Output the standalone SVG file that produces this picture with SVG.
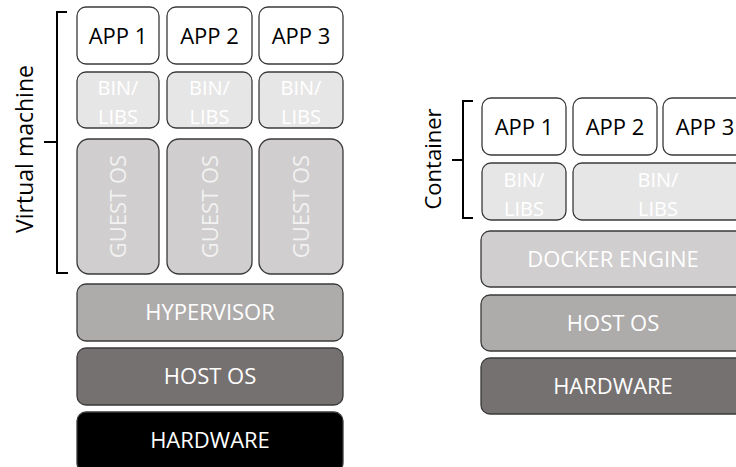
<svg xmlns="http://www.w3.org/2000/svg" width="736" height="467" viewBox="0 0 736 467">
<style>
.b{stroke:#3a3a3a;stroke-width:1.3}
.t{font-family:"Open Sans","Liberation Sans",sans-serif;font-size:22px;text-anchor:middle}
.bl{font-size:20px}
.w{fill:#ffffff}
.k{fill:#000000}
.s{fill:#f2f2f2}
.app{fill:#ffffff}
.bin{fill:#e7e6e6}
.gos{fill:#d0cece}
.hyp{fill:#aeabab}
.hos{fill:#767171}
.hw{fill:#000000}
.br{fill:none;stroke:#000;stroke-width:2}
.lbl{font-family:"Open Sans","Liberation Sans",sans-serif;font-size:22px;text-anchor:middle;fill:#000}
</style>
<rect width="736" height="467" fill="#ffffff"/>
<g id="vm">
<g id="vm-app1"><rect class="b app" x="77" y="7" width="82" height="57" rx="9"/><text class="t k" x="118" y="44">APP 1</text></g>
<g id="vm-app2"><rect class="b app" x="167" y="7" width="85" height="57" rx="9"/><text class="t k" x="209.500" y="44">APP 2</text></g>
<g id="vm-app3"><rect class="b app" x="259" y="7" width="84" height="57" rx="9"/><text class="t k" x="301" y="44">APP 3</text></g>
<g id="vm-bin1"><rect class="b bin" x="77" y="72" width="82" height="56" rx="9"/><text class="t bl w" x="118" y="95">BIN/</text><text class="t bl w" x="118" y="124">LIBS</text></g>
<g id="vm-bin2"><rect class="b bin" x="167" y="72" width="85" height="56" rx="9"/><text class="t bl w" x="209.500" y="95">BIN/</text><text class="t bl w" x="209.500" y="124">LIBS</text></g>
<g id="vm-bin3"><rect class="b bin" x="259" y="72" width="84" height="56" rx="9"/><text class="t bl w" x="301" y="95">BIN/</text><text class="t bl w" x="301" y="124">LIBS</text></g>
<g id="vm-guest1"><rect class="b gos" x="77" y="139" width="82" height="135" rx="12"/><text class="t s" transform="translate(126 206.500) rotate(-90)" x="0" y="0">GUEST OS</text></g>
<g id="vm-guest2"><rect class="b gos" x="167" y="139" width="85" height="135" rx="12"/><text class="t s" transform="translate(217.500 206.500) rotate(-90)" x="0" y="0">GUEST OS</text></g>
<g id="vm-guest3"><rect class="b gos" x="259" y="139" width="84" height="135" rx="12"/><text class="t s" transform="translate(309 206.500) rotate(-90)" x="0" y="0">GUEST OS</text></g>
<g id="vm-hypervisor"><rect class="b hyp" x="77" y="284" width="266" height="57" rx="9"/><text class="t w" x="210" y="320">HYPERVISOR</text></g>
<g id="vm-hostos"><rect class="b hos" x="77" y="348" width="266" height="57" rx="9"/><text class="t w" x="210" y="384">HOST OS</text></g>
<g id="vm-hardware"><rect class="b hw" x="77" y="412" width="266" height="60" rx="9"/><text class="t w" x="210" y="448">HARDWARE</text></g>
<g id="vm-label"><path class="br" d="M67 12 H57 V142 M44 142 H57 M57 142 V273 H68"/><text class="lbl" style="font-size:23px" transform="translate(33 149) rotate(-90)">Virtual machine</text></g>
</g>
<g id="ct">
<g id="ct-app1"><rect class="b app" x="482" y="98" width="84" height="57" rx="9"/><text class="t k" x="524" y="135">APP 1</text></g>
<g id="ct-app2"><rect class="b app" x="573" y="98" width="84" height="57" rx="9"/><text class="t k" x="615" y="135">APP 2</text></g>
<g id="ct-app3"><rect class="b app" x="663" y="98" width="84" height="57" rx="9"/><text class="t k" x="705" y="135">APP 3</text></g>
<g id="ct-bin1"><rect class="b bin" x="482" y="163" width="84" height="57" rx="9"/><text class="t bl w" x="524" y="187">BIN/</text><text class="t bl w" x="524" y="216">LIBS</text></g>
<g id="ct-bin2"><rect class="b bin" x="573" y="163" width="174" height="57" rx="9"/><text class="t bl w" x="658" y="187">BIN/</text><text class="t bl w" x="658" y="216">LIBS</text></g>
<g id="ct-docker"><rect class="b gos" x="481" y="231" width="266" height="56" rx="9"/><text class="t w" x="613" y="267">DOCKER ENGINE</text></g>
<g id="ct-hostos"><rect class="b hyp" x="481" y="295" width="266" height="56" rx="9"/><text class="t w" x="613" y="331">HOST OS</text></g>
<g id="ct-hardware"><rect class="b hos" x="481" y="358" width="266" height="56" rx="9"/><text class="t w" x="613" y="394">HARDWARE</text></g>
<g id="ct-label"><path class="br" d="M473 101 H463 V160 M452 160 H463 M463 160 V218 H473"/><text class="lbl" transform="translate(441 159) rotate(-90)">Container</text></g>
</g>
<g id="connectors"/>
</svg>
